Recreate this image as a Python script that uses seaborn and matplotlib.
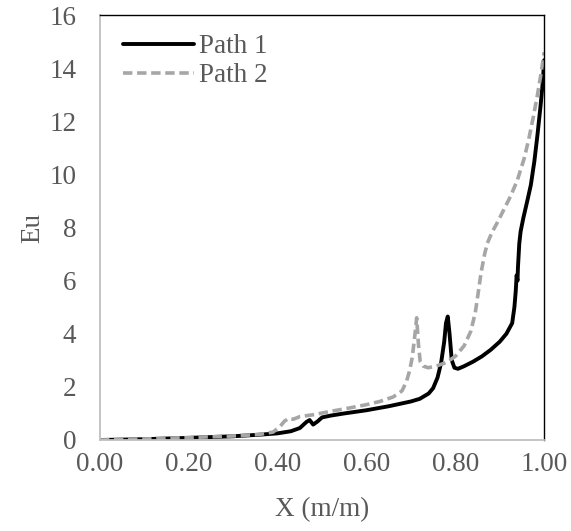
import numpy as np
import pandas as pd
import matplotlib
matplotlib.use('Agg')
import matplotlib.pyplot as plt
import seaborn as sns

sns.set_style('white')
plt.rcParams['font.family'] = ['Liberation Serif', 'DejaVu Serif']

# Path 1 (solid black)
x1 = [0, 0.1, 0.2, 0.3, 0.36, 0.40, 0.43, 0.45, 0.465, 0.472, 0.48, 0.49, 0.50, 0.52,
      0.55, 0.60, 0.65, 0.70, 0.72, 0.74, 0.75, 0.76, 0.768, 0.775, 0.779, 0.783, 0.787,
      0.792, 0.798, 0.806, 0.82, 0.84, 0.86, 0.88, 0.90, 0.915, 0.928, 0.933, 0.936,
      0.938, 0.940, 0.941, 0.944, 0.947, 0.953, 0.962, 0.970, 0.978, 0.985, 0.992, 0.997, 1.0]
y1 = [0, 0.03, 0.08, 0.14, 0.2, 0.25, 0.33, 0.45, 0.68, 0.75, 0.58, 0.7, 0.85, 0.92,
      1.0, 1.12, 1.27, 1.45, 1.55, 1.75, 1.95, 2.35, 2.9, 3.7, 4.4, 4.65, 4.0,
      3.0, 2.72, 2.68, 2.78, 2.95, 3.15, 3.4, 3.7, 4.0, 4.4, 5.0, 5.6,
      6.2, 6.0, 6.5, 7.4, 7.85, 8.35, 9.0, 9.6, 10.5, 11.5, 12.6, 13.5, 14.3]

# Path 2 (dashed grey)
x2 = [0, 0.1, 0.2, 0.3, 0.36, 0.39, 0.405, 0.415, 0.425, 0.435, 0.45, 0.48, 0.52, 0.56,
      0.60, 0.63, 0.66, 0.68, 0.69, 0.697, 0.703, 0.708, 0.713, 0.717, 0.721, 0.728,
      0.739, 0.76, 0.78, 0.80, 0.82, 0.835, 0.845, 0.852, 0.858, 0.866, 0.872, 0.882,
      0.895, 0.91, 0.925, 0.94, 0.955, 0.965, 0.976, 0.985, 0.993, 1.0]
y2 = [0, 0.04, 0.09, 0.15, 0.21, 0.3, 0.5, 0.7, 0.82, 0.78, 0.88, 0.95, 1.08, 1.2,
      1.33, 1.45, 1.62, 1.85, 2.2, 2.6, 3.1, 3.8, 4.6, 3.6, 2.95, 2.78,
      2.72, 2.8, 2.92, 3.15, 3.55, 4.1, 4.8, 5.6, 6.3, 7.0, 7.4, 7.8,
      8.2, 8.7, 9.2, 9.8, 10.6, 11.3, 12.2, 13.0, 13.8, 14.6]

x_ticks = [0.0, 0.2, 0.4, 0.6, 0.8, 1.0]
y_ticks = [0, 2, 4, 6, 8, 10, 12, 14, 16]

text_col = '#595959'
fs = 19.5

fig = plt.figure(figsize=(5.71, 5.31), dpi=100)
ax = fig.add_axes([0.175, 0.1714, 0.778, 0.8003])

sns.lineplot(x=x1, y=y1, ax=ax, sort=False, color='black', lw=2.8,
             label='Path 1', estimator=None)
sns.lineplot(x=x2, y=y2, ax=ax, sort=False, color='#A6A6A6', lw=2.6,
             label='Path 2', estimator=None)
ax.lines[1].set_dashes([2.6, 1.3])

ax.set_xlim(0, 1)
ax.set_ylim(0, 16)
ax.set_xticks(x_ticks)
ax.set_xticklabels([f'{v:.2f}' for v in x_ticks])
ax.set_yticks(y_ticks)
ax.set_yticklabels([str(v) for v in y_ticks])
ax.tick_params(length=0, labelsize=fs, labelcolor=text_col)
ax.tick_params(axis='y', pad=17)
ax.tick_params(axis='x', pad=9)

for s in ['left', 'bottom']:
    ax.spines[s].set_color('#BFBFBF')
    ax.spines[s].set_linewidth(1.3)
for s in ['top', 'right']:
    ax.spines[s].set_color('black')
    ax.spines[s].set_linewidth(1.0)

ax.set_xlabel('X (m/m)', fontsize=fs, color=text_col, labelpad=14)
ax.set_ylabel('Eu', fontsize=fs, color=text_col, labelpad=3)

leg = ax.legend(loc='upper left', frameon=False, fontsize=fs, handlelength=2.6,
                handletextpad=0.2, borderaxespad=0.3, labelspacing=0.15,
                bbox_to_anchor=(0.01, 1.0))
for t in leg.get_texts():
    t.set_color(text_col)

fig.savefig('out.png', dpi=100)
